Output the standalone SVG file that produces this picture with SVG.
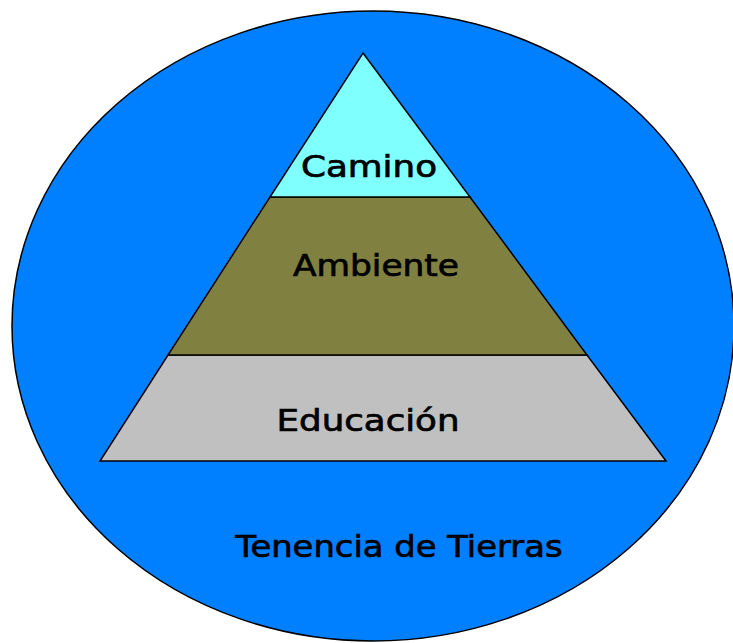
<svg xmlns="http://www.w3.org/2000/svg" width="733" height="643" viewBox="0 0 733 643">
<style>
.s{stroke:#000;stroke-width:1.5;stroke-linejoin:miter}
.t{font-family:"DejaVu Sans","Liberation Sans",sans-serif;font-size:30px;fill:#000;stroke:#000;stroke-width:0.7;text-anchor:middle}
</style>
<rect width="733" height="643" fill="#fff"/>
<g id="tenencia">
<ellipse class="s" cx="373" cy="326" rx="361" ry="315" fill="#0080FF"/>
<text class="t" x="399" y="557" textLength="327" lengthAdjust="spacingAndGlyphs">Tenencia de Tierras</text>
</g>
<g id="educacion">
<polygon class="s" points="168,355 587,355 666,461 100,461" fill="#C0C0C0"/>
<text class="t" x="368" y="431" textLength="183" lengthAdjust="spacingAndGlyphs">Educación</text>
</g>
<g id="ambiente">
<polygon class="s" points="270,197 470,197 587,355 168,355" fill="#808040"/>
<text class="t" x="376" y="276" textLength="166" lengthAdjust="spacingAndGlyphs">Ambiente</text>
</g>
<g id="camino">
<polygon class="s" points="363,53 470,197 270,197" fill="#80FFFF"/>
<text class="t" x="369" y="177" textLength="136" lengthAdjust="spacingAndGlyphs">Camino</text>
</g>
</svg>
